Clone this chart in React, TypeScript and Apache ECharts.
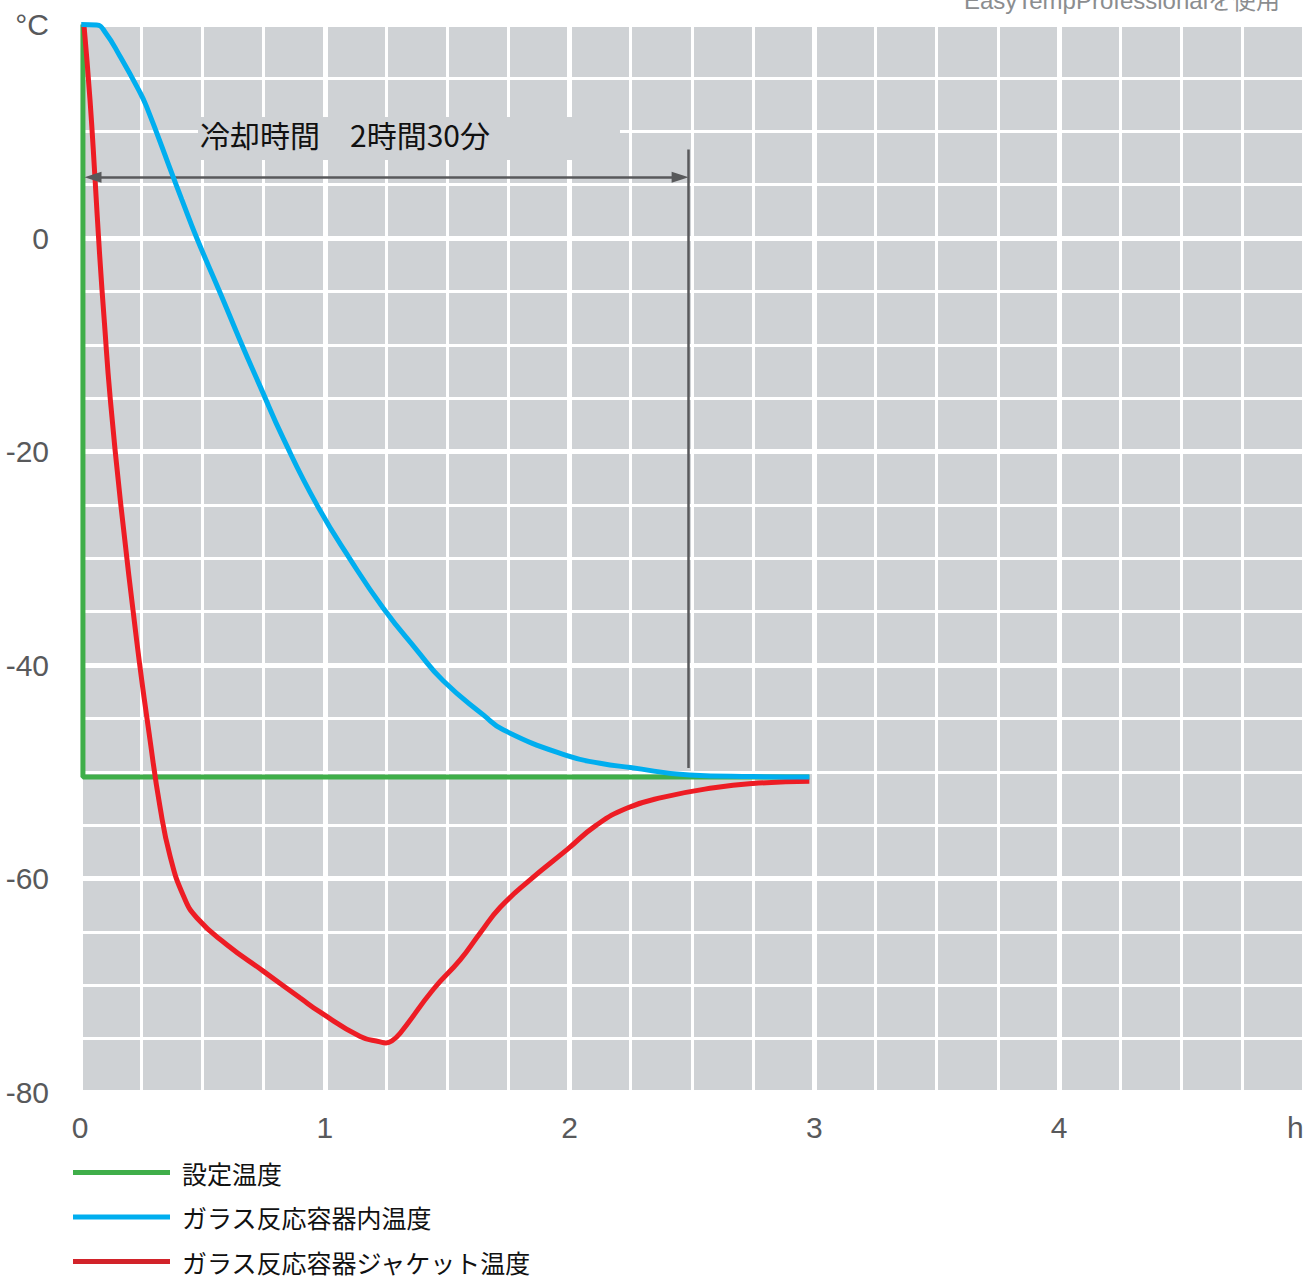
import React, { useEffect, useRef } from 'react';
import * as echarts from 'echarts';

// ---- data ----
const seriesNames = ['設定温度', 'ガラス反応容器内温度', 'ガラス反応容器ジャケット温度'];

const setTime = [0.012, 0.012, 2.98];
const setTemp = [20, -50.5, -50.5];

const innerTime = [0.005, 0.068, 0.102, 0.164, 0.239, 0.272, 0.381, 0.416, 0.477, 0.572, 0.654, 0.736, 0.831, 0.968, 1.104, 1.24, 1.376, 1.485, 1.649, 1.731, 1.99, 2.125, 2.249, 2.49, 2.75, 2.98];
const innerTemp = [20, 19.95, 19.3, 17.0, 13.9, 12.3, 5.7, 3.6, 0, -5.1, -9.6, -13.9, -18.8, -25.0, -30.1, -34.7, -38.6, -41.5, -44.7, -46.1, -48.5, -49.2, -49.6, -50.3, -50.45, -50.5];

const jacketTime = [0.016, 0.041, 0.061, 0.08, 0.1, 0.123, 0.164, 0.232, 0.286, 0.327, 0.368, 0.422, 0.478, 0.6, 0.75, 0.9, 0.98, 1.145, 1.226, 1.25, 1.275, 1.308, 1.443, 1.554, 1.635, 1.717, 1.84, 1.99, 2.11, 2.236, 2.38, 2.59, 2.75, 2.98];
const jacketTemp = [20, 12.9, 5.7, -1.5, -8, -14.9, -24.4, -37.8, -47.0, -53.3, -57.9, -61.6, -63.7, -66.2, -68.7, -71.2, -72.5, -74.8, -75.3, -75.4, -75.2, -74.5, -70.4, -67.6, -65.1, -62.7, -60.1, -57.3, -55.0, -53.4, -52.4, -51.5, -51.1, -50.9];

// annotation values (hours, °C)
const coolStart = 0.053;
const coolEnd = 2.452;
const markerX = 2.485;
const arrowTemp = 5.7;
const markerTop = 8.3;
const markerBottom = -49.65;
const annotationText = '冷却時間　2時間30分';
const noteText = 'EasyTempProfessionalを使用';

const xMin = 0, xMax = 5, xMinor = 0.25, xMajor = 1;
const yMin = -80, yMax = 20, yMinor = 5, yMajor = 20;

const zip = (t: number[], v: number[]) => t.map((x, i) => [x, v[i]]);

const labelFont = "'Liberation Sans Narrow', 'Liberation Sans', sans-serif";
const cjkFont = "'Noto Sans CJK JP', 'Noto Sans', sans-serif";
const axisGray = '#58595b';

export default function App() {
  const ref = useRef<HTMLDivElement>(null);
  useEffect(() => {
    const chart = echarts.init(ref.current!, undefined, { renderer: 'svg' });
    const gridBox = { left: 80, top: 24.5, width: 1223.75, height: 1067.5 };
    const option: any = {
      animation: false,
      backgroundColor: '#ffffff',
      grid: {
        ...gridBox,
        show: true,
        backgroundColor: '#cfd2d5',
        borderWidth: 0,
        containLabel: false,
      },
      xAxis: [
        {
          type: 'value', min: xMin, max: xMax, interval: xMinor,
          axisLine: { show: false }, axisTick: { show: false },
          splitLine: { show: true, lineStyle: { color: '#ffffff', width: 3 } },
          axisLabel: {
            show: true, margin: 20, fontSize: 30, color: axisGray, fontFamily: labelFont,
            alignMaxLabel: 'right',
            formatter: (v: number) => (v === xMax ? 'h' : Number.isInteger(v) ? String(v) : ''),
          },
        },
        {
          type: 'value', min: xMin, max: xMax, interval: xMajor, position: 'bottom',
          axisLine: { show: false }, axisTick: { show: false }, axisLabel: { show: false },
          splitLine: { show: true, lineStyle: { color: '#ffffff', width: 5 } },
        },
      ],
      yAxis: [
        {
          type: 'value', min: yMin, max: yMax, interval: yMinor,
          axisLine: { show: false }, axisTick: { show: false },
          splitLine: { show: true, lineStyle: { color: '#ffffff', width: 3 } },
          axisLabel: {
            show: true, margin: 31, fontSize: 30, color: axisGray, fontFamily: labelFont,
            formatter: (v: number) => (v === yMax ? '°C' : v % yMajor === 0 ? String(v) : ''),
          },
        },
        {
          type: 'value', min: yMin, max: yMax, interval: yMajor, position: 'left',
          axisLine: { show: false }, axisTick: { show: false }, axisLabel: { show: false },
          splitLine: { show: true, lineStyle: { color: '#ffffff', width: 5 } },
        },
      ],
      legend: {
        orient: 'vertical', left: 68, top: 1155, padding: 5, itemGap: 19.5, height: 200,
        icon: 'rect', itemWidth: 97, itemHeight: 5,
        textStyle: { fontSize: 25, color: '#111', fontFamily: cjkFont, padding: [0, 0, 0, 7] },
        data: [
          { name: seriesNames[0], itemStyle: { color: '#3fae49' } },
          { name: seriesNames[1], itemStyle: { color: '#00aeef' } },
          { name: seriesNames[2], itemStyle: { color: '#d2232a' } },
        ],
      },
      series: [
        {
          name: seriesNames[0], type: 'line', data: zip(setTime, setTemp),
          showSymbol: false, symbol: 'none', color: '#3fae49',
          lineStyle: { width: 5, color: '#3fae49' }, z: 3,
          markLine: {
            silent: true, animation: false,
            label: { show: false },
            lineStyle: { color: '#58595b', width: 2.5, type: 'solid' },
            symbolSize: [11, 17],
            data: [
              [
                { coord: [coolStart, arrowTemp], symbol: 'triangle' },
                { coord: [coolEnd, arrowTemp], symbol: 'triangle' },
              ],
              [
                { coord: [markerX, markerTop], symbol: 'none' },
                { coord: [markerX, markerBottom], symbol: 'none' },
              ],
            ],
          },
        },
        {
          name: seriesNames[2], type: 'line', data: zip(jacketTime, jacketTemp),
          showSymbol: false, symbol: 'none', smooth: 0.5, color: '#ed1c24',
          lineStyle: { width: 5, color: '#ed1c24' }, z: 4,
        },
        {
          name: seriesNames[1], type: 'line', data: zip(innerTime, innerTemp),
          showSymbol: false, symbol: 'none', smooth: 0.5, color: '#00aeef',
          lineStyle: { width: 5, color: '#00aeef' }, z: 5,
        },
      ],
      graphic: [
        {
          type: 'rect', left: 198, top: 117, z: 10,
          shape: { width: 422, height: 43 }, style: { fill: '#cfd2d5' },
        },
        {
          type: 'text', x: 200, y: 134, z: 11,
          style: {
            text: annotationText, fontSize: 30, fill: '#111', fontFamily: cjkFont,
            verticalAlign: 'middle', align: 'left',
          },
        },
        {
          type: 'text', x: 1280, y: 0, z: 11,
          style: {
            text: noteText, fontSize: 24, fill: '#8b8d8f',
            fontFamily: "'Liberation Sans', 'Noto Sans CJK JP', sans-serif",
            verticalAlign: 'middle', align: 'right',
          },
        },
      ],
    };
    chart.setOption(option);
    return () => chart.dispose();
  }, []);
  return (
    <div
      ref={ref}
      style={{ position: 'absolute', left: 0, top: 0, width: 1310, height: 1280 }}
    />
  );
}
